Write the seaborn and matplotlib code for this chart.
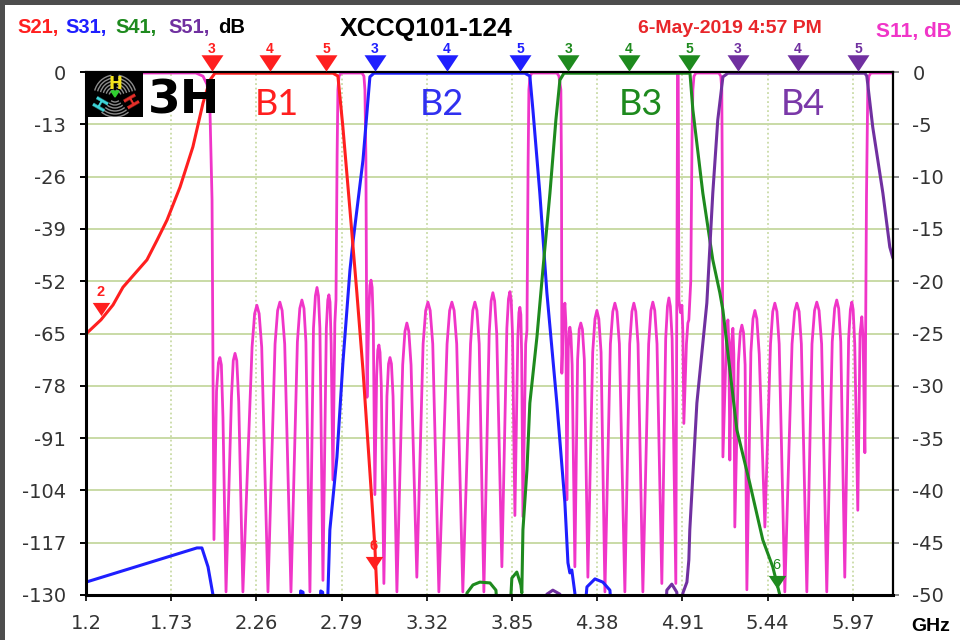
import matplotlib
matplotlib.use('Agg')
import matplotlib.pyplot as plt
import seaborn as sns
from matplotlib.path import Path
from matplotlib.patches import Rectangle, Arc, Polygon

# ==========================================
# 数据
# ==========================================
x_ticks = [1.2, 1.73, 2.26, 2.79, 3.32, 3.85, 4.38, 4.91, 5.44, 5.97]
left_ticks = [0, -13, -26, -39, -52, -65, -78, -91, -104, -117, -130]
right_ticks = [0, -5, -10, -15, -20, -25, -30, -35, -40, -45, -50]

# S21 (B1)
s21_f = [1.200, 1.293, 1.368, 1.430, 1.579, 1.642, 1.704, 1.785, 1.865, 1.928, 1.971, 2.002,
         2.736, 2.767, 2.798, 2.842, 2.885, 2.923, 2.979, 2.997, 3.010, 3.016]
s21_db = [-65.1, -61.6, -57.9, -53.5, -46.7, -41.8, -36.8, -28.6, -18.6, -7.7, -2.0, -0.3,
          -0.3, -1.0, -13.7, -34.3, -54.9, -74.1, -107.1, -118.1, -129.5, -140]

# S31 (B2)
s31_f = [1.200, 1.890, 1.921, 1.959, 1.990, 2.000, 2.525, 2.535, 2.550, 2.560,
         2.650, 2.660, 2.672, 2.682, 2.700, 2.705, 2.717, 2.761, 2.798, 2.842,
         2.860, 2.923, 2.966, 2.991, 3.930, 3.961, 3.980, 4.023, 4.067, 4.129,
         4.179, 4.198, 4.210, 4.222, 4.241, 4.260, 4.290, 4.316, 4.366, 4.415,
         4.459, 4.480]
s31_db = [-126.8, -118.3, -118.3, -123.0, -130.0, -140, -140, -129.0, -129.3, -140,
          -140, -129.0, -129.3, -140, -140, -129.5, -113.8, -95.7, -72.3, -49.2,
          -42.5, -21.9, -1.2, -0.3, -0.3, -1.0, -9.4, -30.1, -54.9, -82.3,
          -107.1, -122.0, -124.5, -123.8, -129.5, -140, -140, -128.0, -126.0, -126.8,
          -128.8, -140]

# S41 (B3)
s41_f = [3.550, 3.570, 3.607, 3.650, 3.713, 3.750, 3.770, 3.830, 3.849, 3.880,
         3.905, 3.911, 3.918, 3.943, 3.961, 4.005, 4.042, 4.086, 4.123, 4.148,
         4.173, 4.957, 4.975, 5.037, 5.099, 5.143, 5.162, 5.249, 5.329, 5.410,
         5.472, 5.516, 5.530]
s41_db = [-140, -129.5, -127.5, -126.8, -127.0, -128.8, -140, -140, -125.8, -124.3,
          -127.5, -129.5, -113.8, -98.9, -82.3, -65.9, -49.2, -30.1, -11.9, -2.0,
          -0.3, -0.3, -9.4, -30.1, -46.7, -54.9, -59.2, -89.0, -102.2, -116.3,
          -123.0, -130.0, -140]

# S51 (B4)
s51_f = [4.050, 4.067, 4.104, 4.148, 4.160, 4.800, 4.813, 4.844, 4.875, 4.890,
         4.905, 4.913, 4.938, 4.950, 4.956, 5.000, 5.062, 5.099, 5.130, 5.162,
         5.193, 6.045, 6.057, 6.094, 6.157, 6.200, 6.219]
s51_db = [-140, -129.8, -128.8, -129.8, -140, -140, -128.8, -127.3, -129.3, -140,
          -140, -129.5, -126.8, -121.3, -113.8, -82.3, -57.4, -30.1, -11.9, -1.2,
          -0.3, -0.3, -1.0, -13.7, -30.1, -43.5, -46.2]

# S11 (右轴), (GHz, dB)
s11_pts = [
    (1.200, -0.1), (1.884, -0.1), (1.928, -0.4), (1.953, -1.2), (1.971, -3.6), (1.984, -12.2), (1.996, -44.7),
    (2.012, -30.5), (2.024, -27.8), (2.033, -27.3), (2.042, -28.0), (2.052, -33.0), (2.071, -49.7),
    (2.105, -31.0), (2.116, -27.6), (2.127, -26.9), (2.138, -27.6), (2.150, -31.5), (2.176, -49.7),
    (2.233, -26.3), (2.249, -23.1), (2.263, -22.3), (2.277, -23.1), (2.293, -26.3), (2.332, -49.7),
    (2.376, -26.0), (2.392, -22.8), (2.406, -22.0), (2.420, -22.8), (2.436, -26.0), (2.475, -49.7),
    (2.515, -25.8), (2.530, -22.6), (2.543, -21.8), (2.556, -22.6), (2.568, -25.8), (2.593, -49.7),
    (2.615, -24.5), (2.627, -21.4), (2.637, -20.6), (2.646, -21.4), (2.655, -24.5), (2.674, -48.6),
    (2.695, -24.5), (2.704, -21.8), (2.711, -21.3), (2.718, -22.0), (2.725, -26.0), (2.736, -39.0),
    (2.748, -24.0), (2.755, -21.8), (2.762, -8.0), (2.767, -1.7), (2.774, -0.4), (2.786, -0.1),
    (2.917, -0.1), (2.929, -0.4), (2.935, -1.7), (2.941, -8.0), (2.948, -31.1),
    (2.960, -22.5), (2.966, -20.4), (2.973, -19.9), (2.980, -20.6), (2.987, -24.0), (2.997, -40.4),
    (3.008, -29.0), (3.015, -26.6), (3.022, -26.1), (3.029, -26.8), (3.037, -30.0), (3.053, -48.9),
    (3.072, -31.0), (3.082, -27.9), (3.091, -27.3), (3.100, -27.9), (3.110, -31.0), (3.134, -49.7),
    (3.170, -28.0), (3.184, -24.8), (3.196, -24.0), (3.208, -24.8), (3.222, -28.0), (3.258, -48.3),
    (3.297, -26.0), (3.313, -22.8), (3.327, -22.0), (3.341, -22.8), (3.357, -26.0), (3.395, -49.7),
    (3.446, -26.0), (3.462, -22.8), (3.476, -22.0), (3.490, -22.8), (3.506, -26.0), (3.544, -49.7),
    (3.592, -26.0), (3.606, -22.8), (3.619, -22.0), (3.632, -22.8), (3.646, -26.0), (3.675, -49.7),
    (3.708, -25.0), (3.720, -21.9), (3.731, -21.1), (3.742, -21.9), (3.755, -25.0), (3.787, -47.3),
    (3.818, -24.5), (3.828, -21.7), (3.837, -21.0), (3.845, -21.8), (3.853, -25.0), (3.868, -42.4),
    (3.886, -25.5), (3.893, -23.0), (3.899, -22.5), (3.905, -23.2), (3.910, -27.0), (3.918, -42.5),
    (3.935, -26.0), (3.943, -24.7), (3.950, -9.0), (3.955, -1.7), (3.962, -0.4), (3.974, -0.1),
    (4.130, -0.1), (4.142, -0.4), (4.154, -1.7), (4.158, -10.0), (4.160, -28.8),
    (4.170, -23.5), (4.179, -22.1), (4.185, -24.0), (4.191, -40.9),
    (4.200, -26.5), (4.205, -24.8), (4.210, -24.4), (4.216, -25.0), (4.224, -28.0), (4.241, -47.3),
    (4.258, -27.5), (4.268, -24.6), (4.278, -24.0), (4.288, -24.6), (4.300, -27.5), (4.322, -48.3),
    (4.352, -26.8), (4.366, -23.6), (4.378, -22.8), (4.390, -23.6), (4.404, -26.8), (4.428, -49.7),
    (4.462, -26.0), (4.477, -22.9), (4.490, -22.1), (4.503, -22.9), (4.518, -26.0), (4.552, -49.7),
    (4.582, -26.0), (4.596, -22.9), (4.608, -22.1), (4.620, -22.9), (4.634, -26.0), (4.664, -49.7),
    (4.700, -26.0), (4.714, -22.8), (4.726, -22.0), (4.738, -22.8), (4.752, -26.0), (4.782, -48.9),
    (4.806, -25.5), (4.817, -22.4), (4.826, -21.6), (4.835, -22.4), (4.846, -25.5), (4.869, -48.9),
    (4.875, -21.8), (4.880, -0.5), (4.882, -0.1), (4.884, -0.5), (4.888, -21.8),
    (4.898, -23.0), (4.907, -22.3), (4.913, -25.0), (4.919, -33.6),
    (4.935, -26.0), (4.944, -24.0), (4.950, -23.7), (4.962, -20.0), (4.970, -6.0), (4.975, -1.7),
    (4.982, -0.4), (4.994, -0.1), (5.137, -0.1), (5.149, -0.4), (5.155, -1.7), (5.158, -10.0), (5.162, -36.8),
    (5.185, -25.0), (5.193, -23.7), (5.199, -26.0), (5.205, -37.1),
    (5.215, -26.0), (5.224, -24.5), (5.230, -27.0), (5.236, -43.5),
    (5.258, -27.8), (5.270, -24.9), (5.280, -24.2), (5.290, -24.9), (5.300, -28.0), (5.311, -49.5),
    (5.336, -26.8), (5.349, -23.6), (5.361, -22.8), (5.373, -23.6), (5.388, -27.0), (5.423, -43.5),
    (5.458, -26.0), (5.472, -22.9), (5.485, -22.1), (5.498, -22.9), (5.512, -26.0), (5.547, -49.7),
    (5.592, -26.0), (5.608, -22.9), (5.622, -22.1), (5.636, -22.9), (5.650, -26.0), (5.684, -49.7),
    (5.716, -26.0), (5.732, -22.8), (5.746, -22.0), (5.760, -22.8), (5.776, -26.0), (5.808, -49.7),
    (5.842, -25.8), (5.857, -22.6), (5.870, -21.8), (5.882, -22.6), (5.895, -25.8), (5.920, -48.3),
    (5.944, -25.5), (5.955, -22.7), (5.964, -22.0), (5.972, -22.7), (5.982, -26.0), (6.001, -41.9),
    (6.015, -25.0), (6.026, -23.4), (6.034, -25.5), (6.045, -36.4),
    (6.055, -12.0), (6.063, -1.7), (6.070, -0.4), (6.082, -0.1), (6.219, -0.1),
]
s11_f = [p[0] for p in s11_pts]
s11_db = [p[1] for p in s11_pts]

# 顶部标记 (3, 4, 5)
mk_labels = ['3', '4', '5']
red_mk_f = [1.984, 2.345, 2.693]
blue_mk_f = [2.998, 3.446, 3.900]
green_mk_f = [4.199, 4.578, 4.951]
purple_mk_f = [5.256, 5.629, 6.003]

# 曲线上的标记 (2, 6)
red2_f, red2_db = 1.293, -59.0
red6_f, red6_db = 2.991, -122.0
green6_f, green6_db = 5.497, -126.8

band_names = ['B1', 'B2', 'B3', 'B4']

# ==========================================
# 样式
# ==========================================
sns.set_style("white")
plt.rcParams['font.family'] = ['DejaVu Sans']

RED = '#ff1f1f'
BLUE = '#1f1fff'
GREEN = '#1e8a1e'
PURPLE = '#7030a0'
MAG = '#f035c8'
GRID = '#c9dba6'
W, H = 960, 640


def px(x, y):
    return x / W, 1 - y / H


fig = plt.figure(figsize=(9.6, 6.4), dpi=100, facecolor='#4d4d4d')
fig.add_artist(Rectangle((5 / W, 0), 955 / W, 635 / H, transform=fig.transFigure,
                         facecolor='white', edgecolor='none', zorder=-10))

ax = fig.add_axes([86 / W, 45 / H, 807 / W, 523 / H])
ax2 = ax.twinx()
ax.set_zorder(ax2.get_zorder() + 1)
ax.patch.set_visible(False)
ax2.patch.set_visible(False)

ax.set_xlim(1.2, 6.22)
ax.set_ylim(-130, 0)
ax2.set_ylim(-50, 0)

# 网格 (放在下层轴)
ax2.set_yticks(right_ticks)
ax2.set_yticklabels([str(v) for v in right_ticks])
ax2.grid(True, axis='y', color=GRID, lw=1.4, ls='-')
for xt in x_ticks[1:]:
    ax2.axvline(xt, color=GRID, lw=1.3, ls=(0, (1, 1.5)), zorder=0)

# S11
sns.lineplot(x=s11_f, y=s11_db, ax=ax2, color=MAG, lw=2.0, sort=False, estimator=None)

# S21..S51
for f, db, c in [(s31_f, s31_db, BLUE), (s41_f, s41_db, GREEN),
                 (s51_f, s51_db, PURPLE), (s21_f, s21_db, RED)]:
    sns.lineplot(x=f, y=db, ax=ax, color=c, lw=2.2, sort=False, estimator=None)

ax.set_xlabel('')
ax.set_ylabel('')
ax2.set_ylabel('')

# 坐标轴
ax.set_xticks(x_ticks)
ax.set_xticklabels([str(v) for v in x_ticks])
ax.set_yticks(left_ticks)
ax.set_yticklabels([str(v) for v in left_ticks])
for side in ['left', 'bottom']:
    ax.spines[side].set_visible(True)
    ax.spines[side].set_color('black')
    ax.spines[side].set_linewidth(2.2)
for side in ['top', 'right']:
    ax.spines[side].set_visible(True)
    ax.spines[side].set_color('black')
    ax.spines[side].set_linewidth(1.6)
for side in ax2.spines:
    ax2.spines[side].set_visible(False)

ax.tick_params(axis='y', left=True, direction='out', length=4.5, width=1.4, pad=10,
               labelsize=14, labelcolor='#333333', color='black')
ax.tick_params(axis='x', bottom=True, direction='out', length=4, width=1.2, pad=10,
               labelsize=14, labelcolor='#333333', color='black')
ax2.tick_params(axis='y', right=True, direction='out', length=4, width=1.2, pad=10,
                labelsize=14, labelcolor='#333333', color='#777777')

# 三角标记
tri = Path([(-1, 0.75), (1, 0.75), (0, -0.75), (-1, 0.75)])
for fs, c in [(red_mk_f, RED), (blue_mk_f, BLUE), (green_mk_f, GREEN), (purple_mk_f, PURPLE)]:
    ax.scatter(fs, [2.2] * len(fs), marker=tri, s=250, color=c, clip_on=False, zorder=6, linewidths=0)
    for f, lab in zip(fs, mk_labels):
        ax.text(f, 5.6, lab, ha='center', va='center', fontsize=10, fontweight='bold',
                color=c, clip_on=False, family='Liberation Sans')

for f, db, lab, c, fw in [(red2_f, red2_db, '2', RED, 'bold'), (red6_f, red6_db, '6', RED, 'bold'),
                          (green6_f, green6_db, '6', GREEN, 'normal')]:
    ax.scatter([f], [db], marker=tri, s=160, color=c, zorder=6, linewidths=0, clip_on=False)
    ax.text(f, db + 4.2, lab, ha='center', va='center', fontsize=10.5, fontweight=fw,
            color=c, family='Liberation Sans')

# 频段标签
for name, xc, c in zip(band_names, [277, 442, 641, 803], [RED, '#3030f0', GREEN, '#7a38a8']):
    fig.text(*px(xc, 115), name, ha='center', va='baseline', fontsize=26,
             color=c, family='Lato')

# 顶部文字
for s, x0, c in [('S21,', 17, RED), ('S31,', 65, BLUE), ('S41,', 115, GREEN),
                 ('S51,', 168, PURPLE), ('dB', 218, 'black')]:
    fig.text(*px(x0, 33), s, ha='left', va='baseline', fontsize=14.5, fontweight='bold',
             color=c, family='Liberation Sans')
fig.text(*px(426, 36), 'XCCQ101-124', ha='center', va='baseline', fontsize=19,
         fontweight='bold', color='black', family='Liberation Sans')
fig.text(*px(730, 33), '6-May-2019 4:57 PM', ha='center', va='baseline', fontsize=14,
         fontweight='bold', color='#e8262a', family='Liberation Sans')
fig.text(*px(952, 37), 'S11, dB', ha='right', va='baseline', fontsize=15,
         fontweight='bold', color=MAG, family='Liberation Sans')
fig.text(*px(911, 631), 'GHz', ha='left', va='baseline', fontsize=14,
         fontweight='bold', color='black', family='Liberation Sans')

# 3H 标志
lax = fig.add_axes([87 / W, 1 - 117 / H, 56 / W, 44 / H])
lax.set_xlim(0, 56)
lax.set_ylim(0, 44)
lax.axis('off')
lax.add_patch(Rectangle((0, 0), 56, 44, facecolor='black', edgecolor='none'))
for r in range(6, 24, 3):
    for t1, t2 in [(100, 165), (15, 80), (230, 310)]:
        lax.add_patch(Arc((28, 21), 2 * r, 2 * r, theta1=t1, theta2=t2, color='#8c8c8c', lw=1.0))
lax.text(28, 33, 'H', ha='center', va='center', fontsize=12, fontweight='bold', color='#f2e21c')
lax.text(15, 14, 'H', ha='center', va='center', fontsize=12, fontweight='bold', color='#3fd8dc', rotation=60)
lax.text(41, 14, 'H', ha='center', va='center', fontsize=12, fontweight='bold', color='#e8302a', rotation=-60)
lax.add_patch(Polygon([(24, 26), (32, 26), (28, 20)], closed=True, color='#30d030'))
fig.text(*px(148, 113), '3H', ha='left', va='baseline', fontsize=34, fontweight='bold',
         color='black', family='DejaVu Sans')

fig.savefig('out.png', dpi=100, facecolor=fig.get_facecolor())
